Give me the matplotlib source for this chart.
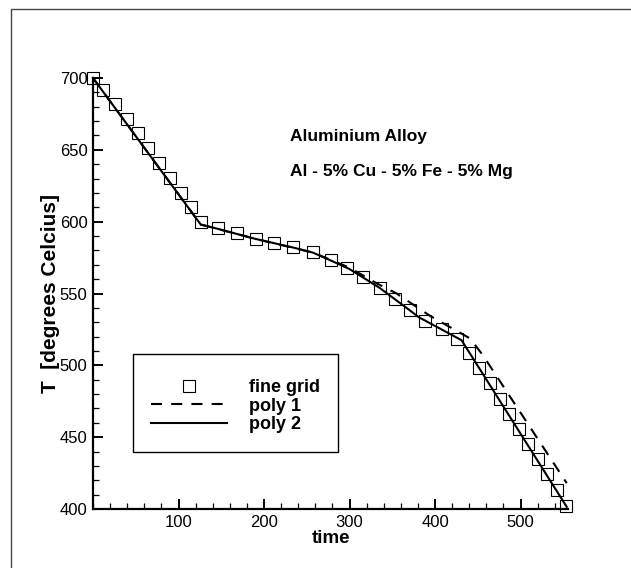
import numpy as np
import matplotlib
matplotlib.use("Agg")
import matplotlib.pyplot as plt
from matplotlib.patches import Rectangle
from matplotlib.ticker import MultipleLocator

plt.rcParams['font.family'] = ['Liberation Sans', 'DejaVu Sans']

# fine grid samples
fine_t = [0, 12, 25.7, 39.4, 52.3, 64.7, 77.5, 90, 102.6, 114.6, 126.3,
          146.5, 168, 190.3, 212, 234.3, 257, 278, 297.4, 316.1, 335.7,
          353.2, 370.8, 388.3, 407.8, 426, 439.8, 451.8, 464.3, 476,
          486.9, 498.2, 509.1, 520.1, 531.3, 542.3, 553.5]
fine_T = [700, 691.6, 681.7, 671.4, 661.5, 651, 640.6, 630.2, 620.1, 610,
          599.5, 595.3, 591.9, 588.2, 585.3, 582.1, 578.6, 573.3, 567.5,
          561.2, 554, 546.1, 538.4, 530.8, 525, 518.5, 508.3, 497.8, 487.4,
          476.5, 466, 455.6, 445.1, 434.7, 424.2, 413.1, 402]

# poly 1 fit
poly1_t = [0, 126, 190, 257, 300, 332, 355, 394, 441, 456, 554]
poly1_T = [700, 598, 588, 578.5, 568, 557, 550, 534.5, 518.7, 507, 418]

# poly 2 fit
poly2_t = [0, 126, 146, 190, 234, 257, 278, 300, 335, 370, 381, 431, 554]
poly2_T = [700, 598, 595, 588, 582, 578.5, 573, 567, 554, 538.5, 533.5, 517.5, 401.5]

W, H = 631, 568
fig = plt.figure(figsize=(W / 100, H / 100), dpi=100)
ax = fig.add_axes([93 / W, 1 - 509 / H, (568 - 93) / W, (509 - 78) / H])

# outer frame (only left/top edges are inside the picture)
fig.add_artist(Rectangle((11 / W, -0.5), 2.0, 0.5 + 1 - 9 / H,
                         transform=fig.transFigure, fill=False,
                         edgecolor='#444444', lw=1.0))

ax.plot(poly1_t, poly1_T, color='black', lw=1.5, dashes=(5.3, 4.4),
        label='poly 1', clip_on=False)
ax.plot(poly2_t, poly2_T, color='black', lw=1.5, label='poly 2', clip_on=False)
ax.plot(fine_t, fine_T, ls='none', marker='s', ms=8, mfc='none',
        mec='black', mew=0.8, label='fine grid', clip_on=False, zorder=3)

ax.set_xlim(0, 555.5)
ax.set_ylim(400, 700)

for s in ['top', 'right']:
    ax.spines[s].set_visible(False)
for s in ['left', 'bottom']:
    ax.spines[s].set_linewidth(1.6)

ax.xaxis.set_major_locator(MultipleLocator(100))
ax.xaxis.set_minor_locator(MultipleLocator(20))
ax.yaxis.set_major_locator(MultipleLocator(50))
ax.yaxis.set_minor_locator(MultipleLocator(10))
ax.set_xticks([100, 200, 300, 400, 500])
ax.tick_params(which='major', direction='in', length=7.5, width=1.4,
               labelsize=12, pad=4)
ax.tick_params(which='minor', direction='in', length=4.5, width=0.9)

ax.set_xlabel('time', fontsize=13.5, fontweight='bold', labelpad=0)
ax.set_ylabel('T  [degrees Celcius]', fontsize=15, fontweight='bold', labelpad=0)

ax.text(230.4, 656.4, 'Aluminium Alloy', fontsize=12.5, fontweight='bold',
        va='baseline')
ax.text(230.4, 631.8, 'Al - 5% Cu - 5% Fe - 5% Mg', fontsize=12.5,
        fontweight='bold', va='baseline')

h = ax.get_legend_handles_labels()[0]
leg = ax.legend([h[2], h[0], h[1]], ['fine grid', 'poly 1', 'poly 2'],
                loc='upper left', bbox_to_anchor=(40 / 475, 155 / 431),
                borderaxespad=0, fancybox=False, framealpha=1,
                edgecolor='black', handlelength=4.2, handletextpad=1.2,
                labelspacing=0.1, borderpad=1.0, numpoints=1,
                title=' ', title_fontsize=4,
                prop={'weight': 'bold', 'size': 13})
leg.get_frame().set_linewidth(1.0)

fig.savefig('out.png', dpi=100)
